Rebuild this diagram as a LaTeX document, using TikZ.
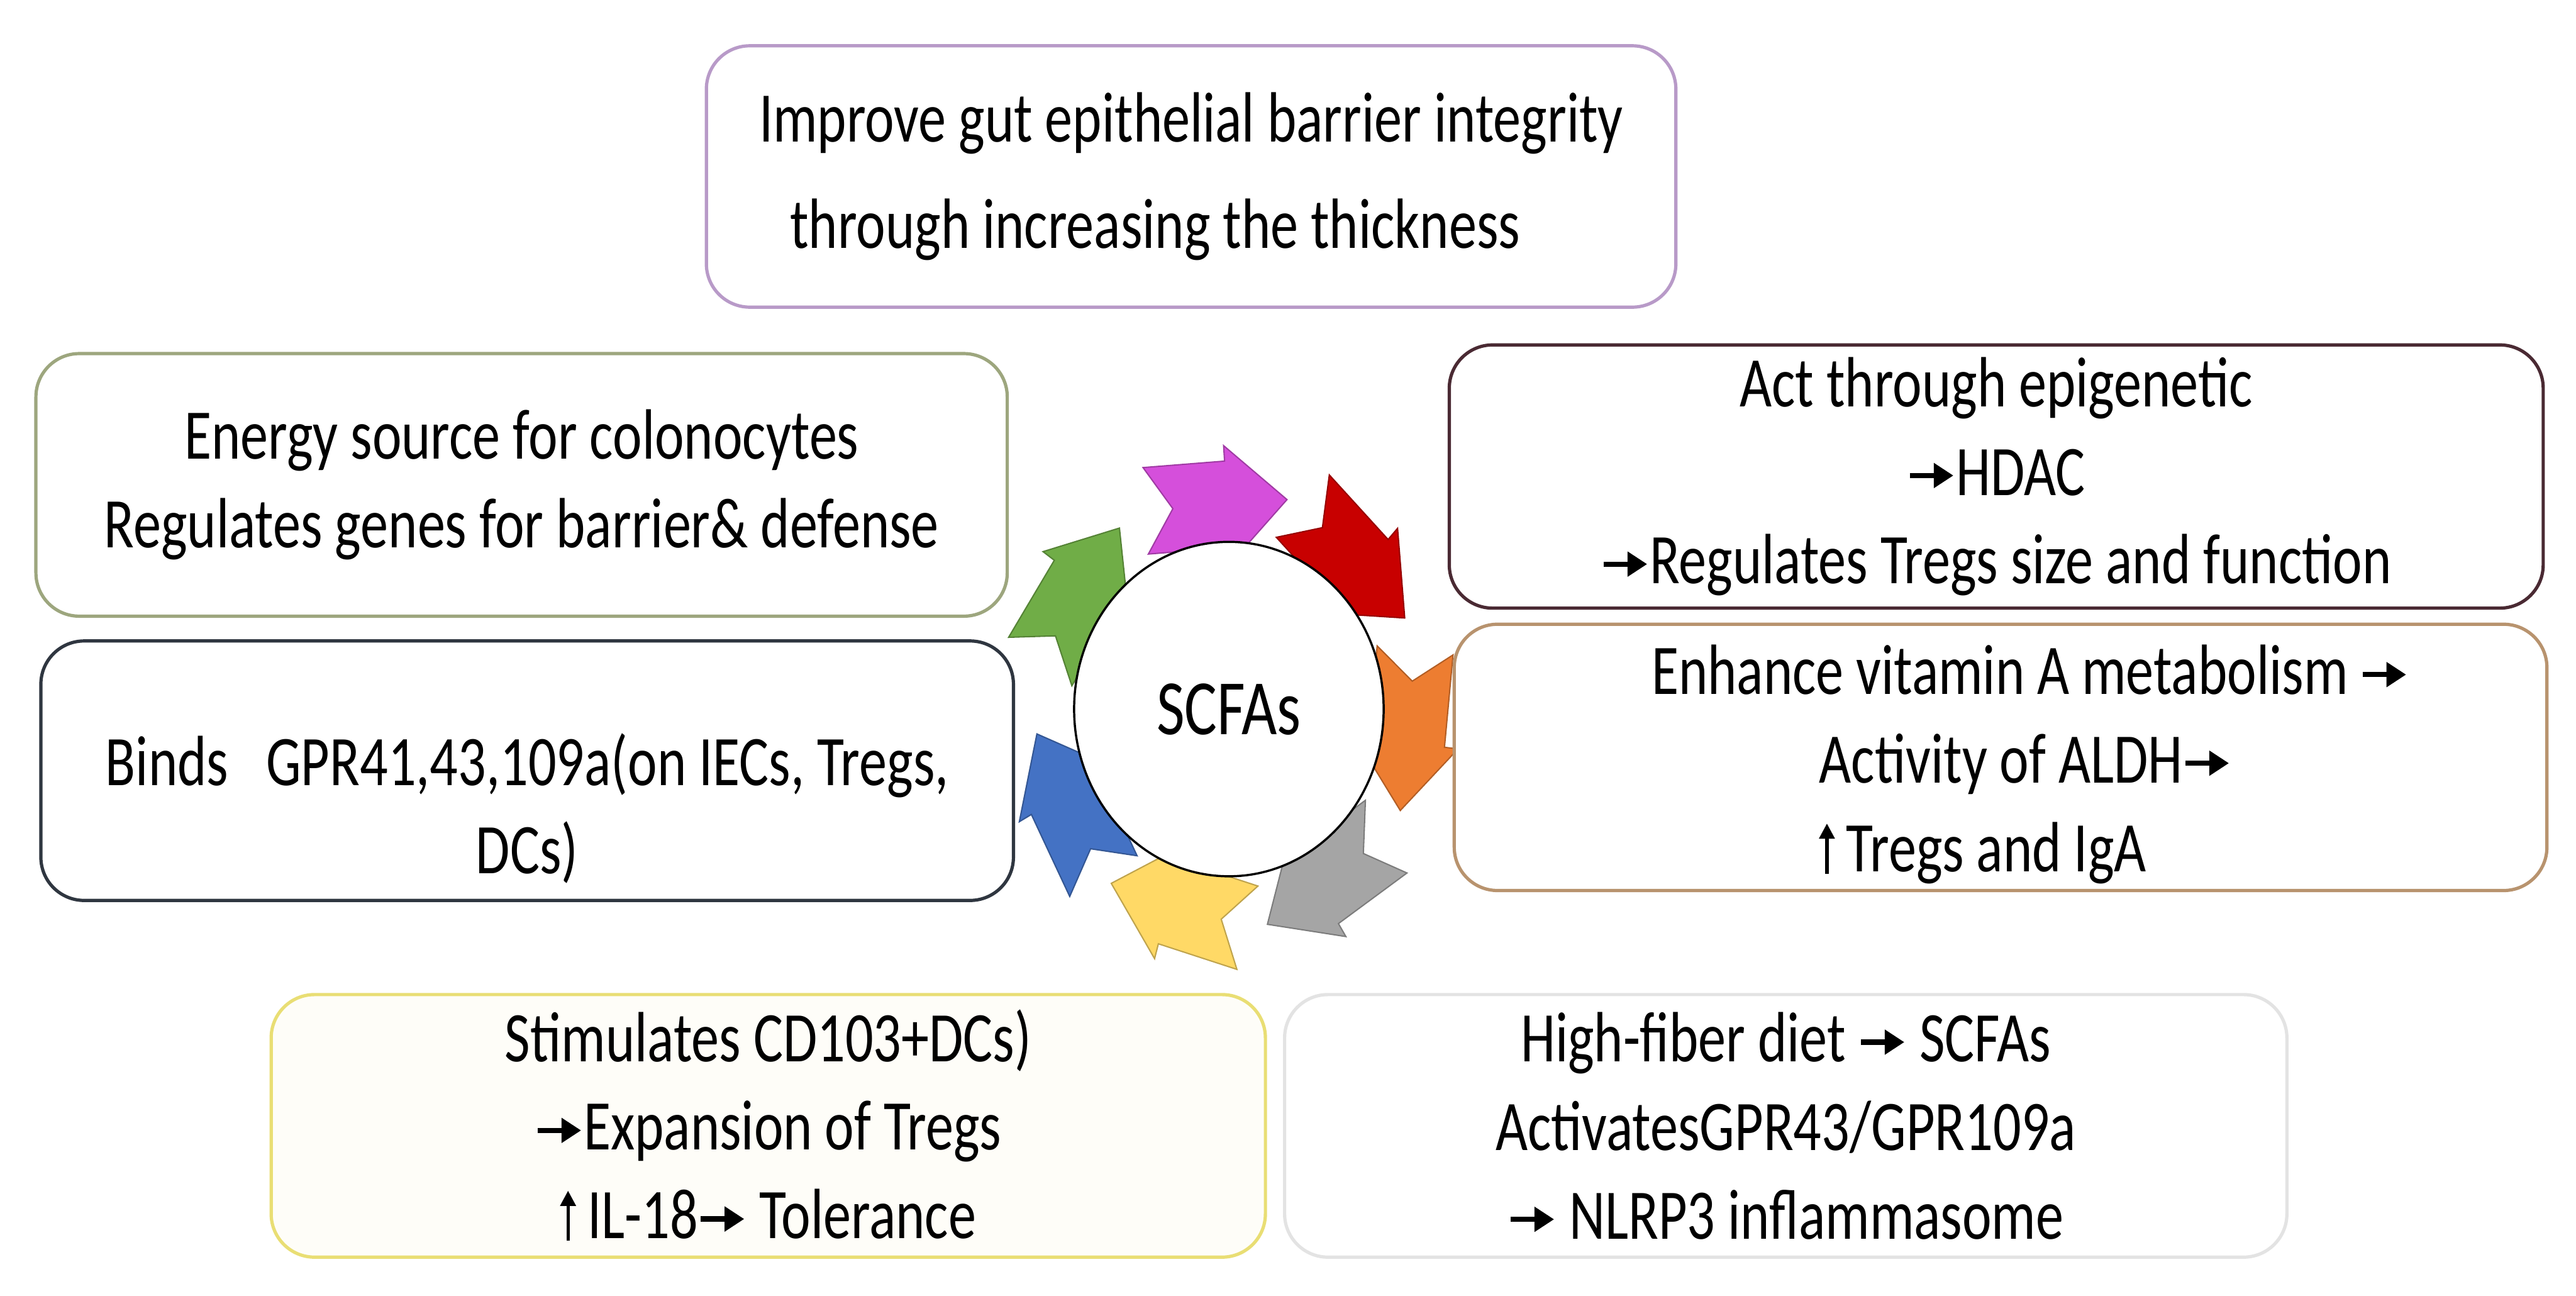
\documentclass[tikz,border=0pt]{standalone}
\usepackage{fontspec}
\setmainfont{Carlito}[FakeStretch=0.78]
\usetikzlibrary{arrows.meta, positioning, shapes.geometric}
\definecolor{cgut}{HTML}{B89AC8}
\definecolor{cenergy}{HTML}{9DA67E}
\definecolor{cbinds}{HTML}{2F3640}
\definecolor{cepi}{HTML}{4A2A33}
\definecolor{cvita}{HTML}{B8936E}
\definecolor{ccd}{HTML}{E9DE74}
\definecolor{cfiber}{HTML}{E3E3E3}
\definecolor{apurple}{HTML}{D54FDB}
\definecolor{ared}{HTML}{C80000}
\definecolor{aorange}{HTML}{ED7D31}
\definecolor{agray}{HTML}{A5A5A5}
\definecolor{ayellow}{HTML}{FFD966}
\definecolor{ablue}{HTML}{4472C4}
\definecolor{agreen}{HTML}{70AD47}
\newcommand{\bodyfont}{\fontsize{32.7}{40.7}\selectfont}
\newcommand{\rarr}{\tikz[baseline=-9pt]\draw[line width=2.4pt, -{Triangle[length=9pt, width=11pt]}] (0,0) -- (20pt,0);}
\newcommand{\uarr}{\tikz[baseline=0pt]\draw[line width=1.5pt, -{Triangle[length=7pt, width=7pt]}] (0,-1pt) -- (0,22pt);\,}
\tikzset{
  box/.style={draw=#1, fill=white, rounded corners=7mm, line width=1.5pt, align=center, inner sep=0pt, font=\bodyfont},
  box/.default=cbinds,
  txt/.style={align=center, inner sep=0pt, font=\bodyfont},
  ringarrow/.style={fill=#1, draw=#1!75!black, line width=0.6pt},
}
\begin{document}
\begin{tikzpicture}[x=1mm, y=1mm]
  \useasboundingbox (0,0) rectangle (416.1,209.2);
  % ring of arrows round the centre
  \begin{scope}[shift={(198.5,94.7)}, xscale=0.88]
    \foreach \ang/\col in {94/apurple, 46/ared, -6/aorange, -57/agray, -106/ayellow, -152/ablue, 146/agreen}
      \draw[ringarrow=\col, rotate=\ang, shift={(33,0)}, rotate=-90]
        (-13,7) -- (2,7) -- (2,9.5) -- (13,0) -- (2,-9.5) -- (2,-7) -- (-13,-7) -- (-8,0) -- cycle;
  \end{scope}
  \node[ellipse, draw, fill=white, line width=1pt, minimum width=50mm, minimum height=54mm,
        font=\fontsize{36}{40}\selectfont] (scfa) at (198.5,94.7) {SCFAs};
  % boxes
  \node[box=cgut, minimum width=156.6mm, minimum height=42.2mm, font=\fontsize{32.7}{48.9}\selectfont]
    (gut) at (192.4,180.7) {Improve gut epithelial barrier integrity\\through increasing the thickness\hspace*{11.6mm}};
  \node[box=cenergy, minimum width=156.9mm, minimum height=42.4mm]
    (energy) at (84.25,130.9) {Energy source for colonocytes\\Regulates genes for barrier\& defense};
  \node[box=cbinds, minimum width=157.1mm, minimum height=41.9mm] (binds) at (85.15,84.75) {};
  \node[txt] (bindstext) at ([yshift=-6.1mm]binds.center) {Binds\ \ \ GPR41,43,109a(on IECs, Tregs,\\DCs)};
  \node[box=cepi, minimum width=176.7mm, minimum height=42.5mm]
    (epi) at (322.45,132.25) {Act through epigenetic\\\rarr HDAC\\\rarr Regulates Tregs size and function};
  \node[box=cvita, minimum width=176.5mm, minimum height=43mm] (vita) at (323.15,86.9) {};
  \node[txt, align=left, anchor=west] (vitatext) at (266.7,85.8)
    {Enhance vitamin A metabolism\,\rarr\\\hspace*{27.1mm}Activity of ALDH\rarr\\\hspace*{27.1mm}\uarr Tregs and IgA};
  \node[box=ccd, fill=ccd!5, minimum width=160.6mm, minimum height=42.4mm]
    (cd) at (124.1,27.4) {Stimulates CD103+DCs)\\\rarr Expansion of Tregs\\\uarr IL-18\rarr\ Tolerance};
  \node[box=cfiber, minimum width=161.9mm, minimum height=42.4mm]
    (fiber) at (288.45,27.4) {High-fiber diet \rarr\ SCFAs\\ActivatesGPR43/GPR109a\\\rarr\ NLRP3 inflammasome};
\end{tikzpicture}
\end{document}
